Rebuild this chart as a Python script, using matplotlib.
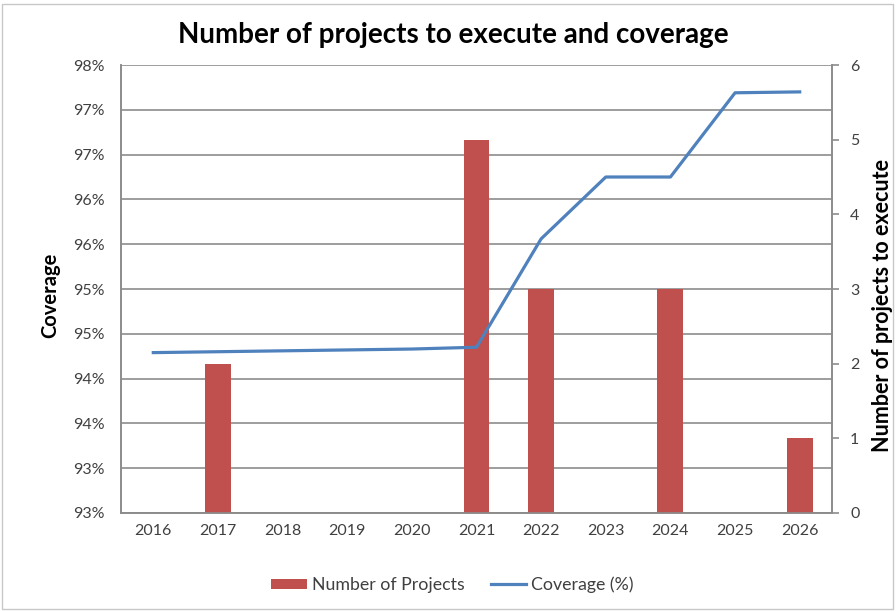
import matplotlib
matplotlib.use("Agg")
import matplotlib.pyplot as plt
from matplotlib.patches import Rectangle

# data
years = ['2016', '2017', '2018', '2019', '2020', '2021', '2022', '2023', '2024', '2025', '2026']
projects = [0, 2, 0, 0, 0, 5, 3, 0, 3, 0, 1]
coverage = [94.29, 94.30, 94.31, 94.32, 94.33, 94.35, 95.56, 96.25, 96.25, 97.19, 97.20]

cov_ticks = [92.5, 93.0, 93.5, 94.0, 94.5, 95.0, 95.5, 96.0, 96.5, 97.0, 97.5]
cov_labels = ['93%', '93%', '94%', '94%', '95%', '95%', '96%', '96%', '97%', '97%', '98%']
proj_ticks = [0, 1, 2, 3, 4, 5, 6]

bar_color = '#C0504D'
line_color = '#4F81BD'
grid_color = '#8C8C8C'
text_color = '#404040'

plt.rcParams['font.family'] = ['Lato', 'DejaVu Sans']

fig = plt.figure(figsize=(8.96, 6.11), dpi=100)
ax = fig.add_axes([0.135, 0.1604, 0.7936, 0.7332])
ax2 = ax.twinx()

x = list(range(len(years)))

# left axis: coverage with gridlines
ax.set_xlim(-0.5, len(years) - 0.5)
ax.set_ylim(92.5, 97.5)
ax.set_yticks(cov_ticks)
ax.set_yticklabels(cov_labels)
ax.yaxis.grid(True, color=grid_color, linewidth=1.2)
ax.set_axisbelow(True)
ax.set_xticks(x)
ax.set_xticklabels(years)
ax.tick_params(axis='both', labelsize=11.5, colors=text_color, length=0, pad=8)
ax.tick_params(axis='y', pad=12)
ax.set_ylabel('Coverage', fontsize=14.5, fontweight='bold', color='black')
ax.yaxis.set_label_coords(-0.099, 0.487)
ax.yaxis.label.set_va('center')

# right axis: number of projects as bars
bars = ax2.bar(x, projects, width=0.4, color=bar_color, zorder=2, label='Number of Projects')
ax2.set_ylim(0, 6)
ax2.set_yticks(proj_ticks)
ax2.tick_params(axis='y', labelsize=11.5, colors=text_color, length=5, width=1.2, pad=8)
ax2.tick_params(axis='y', color=grid_color)
ax2.set_ylabel('Number of projects to execute', fontsize=15.5, fontweight='bold', color='black')
ax2.yaxis.set_label_coords(1.071, 0.464)
ax2.yaxis.label.set_va('center')
ax2.yaxis.label.set_ha('center')

# line drawn on top of bars but on coverage scale
line, = ax2.plot(x, coverage, color=line_color, linewidth=2.3, transform=ax.transData,
                 zorder=3, label='Coverage (%)')

for a in (ax, ax2):
    for s in a.spines.values():
        s.set_color(grid_color)
        s.set_linewidth(1.2)
    a.spines['top'].set_visible(False)

fig.text(0.506, 0.942, 'Number of projects to execute and coverage', ha='center', va='center',
         fontsize=20, fontweight='bold')

fig.legend(handles=[bars, line], loc='center', bbox_to_anchor=(0.505, 0.043), ncol=2,
           frameon=False, fontsize=12.8, handlelength=2.0, handleheight=0.5,
           columnspacing=1.5, handletextpad=0.28, labelcolor=text_color)

# outer chart border
fig.patches.append(Rectangle((0.002, 0.003), 0.995, 0.99, transform=fig.transFigure,
                             fill=False, edgecolor='#C8C8C8', linewidth=1))

fig.savefig('out.png', dpi=100)
